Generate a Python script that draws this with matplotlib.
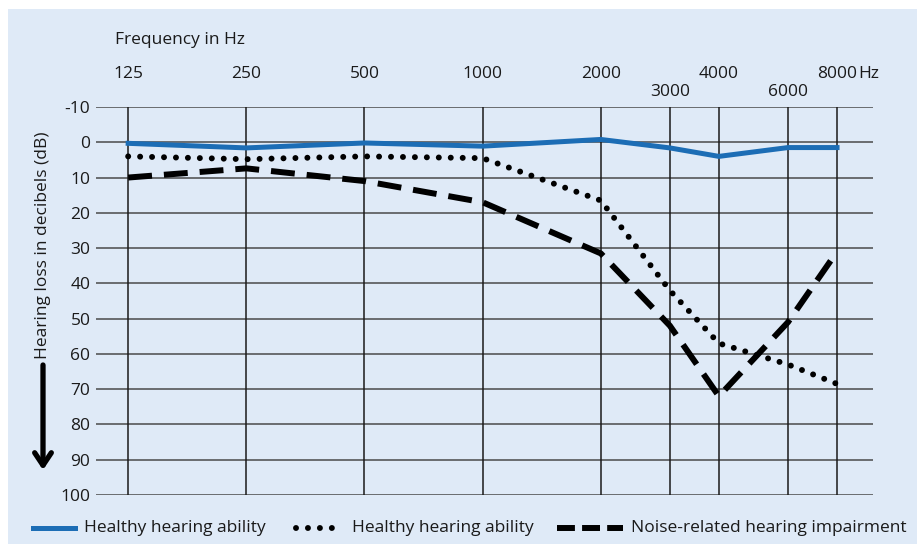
import matplotlib.pyplot as plt
from matplotlib.lines import Line2D
from matplotlib.patches import Rectangle

plt.rcParams['font.family'] = ['Open Sans', 'DejaVu Sans']

# Frequencies (Hz) and hearing loss (dB)
freqs = [125, 250, 500, 1000, 2000, 3000, 4000, 6000, 8000]
healthy_solid = [0.3, 1.6, 0.2, 1.1, -0.8, 1.6, 4.0, 1.5, 1.5]
healthy_dotted = [4.0, 4.8, 4.0, 4.5, 16.5, 42.0, 57.0, 63.0, 68.5]
noise_dashed = [10.0, 7.4, 11.0, 17.0, 31.5, 52.0, 72.0, 51.0, 31.0]

upper_ticks = ['125', '250', '500', '1000', '2000', '4000', '8000']
lower_ticks = ['3000', '6000']
db_ticks = list(range(-10, 101, 10))

BG = '#dfeaf7'
BLUE = '#1c6db5'
TXT = '#1a1a1a'
FS = 12.5

W, H = 917, 544
fig = plt.figure(figsize=(W / 100, H / 100), dpi=100)
fig.patch.set_facecolor('white')
fig.add_artist(Rectangle((8 / W, 0), 1 - 8 / W, 1 - 9 / H, transform=fig.transFigure,
                         facecolor=BG, edgecolor='none', zorder=0))

ax = fig.add_axes([96 / W, 1 - 495 / H, 777 / W, 388 / H])
ax.patch.set_alpha(0)
ax.set_xscale('log', base=2)
ax.set_xlim(103.5, 9880)
ax.set_ylim(100, -10)
for s in ax.spines.values():
    s.set_visible(False)

# grid
for d in db_ticks:
    ax.axhline(d, color='#4a4a4a', lw=1.1, zorder=1)
for f in freqs:
    ax.axvline(f, color='#1a1a1a', lw=1.1, zorder=1)

ax.set_xticks([])
ax.set_yticks(db_ticks)
ax.set_yticklabels([str(d) for d in db_ticks])
ax.tick_params(axis='y', length=0, pad=4, labelsize=FS, labelcolor=TXT)
ax.minorticks_off()

# curves
ax.plot(freqs, noise_dashed, color='black', lw=4.3, linestyle=(0, (4, 2)),
        dash_capstyle='butt', zorder=3)
ax.plot(freqs, healthy_dotted, color='black', lw=4.3, linestyle=(0, (0.001, 2)),
        dash_capstyle='round', zorder=3)
ax.plot(freqs, healthy_solid, color=BLUE, lw=3.6, solid_joinstyle='miter', zorder=4)

# frequency labels on top
trans = ax.get_xaxis_transform()
for lab in upper_ticks:
    ax.annotate(lab, xy=(float(lab), 1), xycoords=trans, xytext=(0, 24),
                textcoords='offset points', ha='center', va='center',
                fontsize=FS, color=TXT)
for lab in lower_ticks:
    ax.annotate(lab, xy=(float(lab), 1), xycoords=trans, xytext=(0, 11),
                textcoords='offset points', ha='center', va='center',
                fontsize=FS, color=TXT)
ax.annotate('Hz', xy=(8000, 1), xycoords=trans, xytext=(15, 24),
            textcoords='offset points', ha='left', va='center',
            fontsize=FS, color=TXT)

fig.text(115 / W, 1 - 40 / H, 'Frequency in Hz', ha='left', va='center',
         fontsize=FS, color=TXT)
fig.text(43 / W, 1 - 245 / H, 'Hearing loss in decibels (dB)', rotation=90,
         ha='center', va='center', fontsize=FS, color=TXT)
fig.add_artist(plt.Annotation('', xy=(43 / W, 1 - 470 / H), xycoords='figure fraction',
                              xytext=(43 / W, 1 - 365 / H), textcoords='figure fraction',
                              arrowprops=dict(arrowstyle='->,head_length=0.9,head_width=0.6',
                                              lw=3.8, color='black',
                                              shrinkA=0, shrinkB=0)))

# legend
ly = 1 - 528 / H
fig.add_artist(Line2D([33 / W, 75 / W], [ly, ly], color=BLUE, lw=3.6))
fig.text(84 / W, ly, 'Healthy hearing ability', ha='left', va='center',
         fontsize=FS, color=TXT)
fig.add_artist(Line2D([296 / W, 341 / W], [ly, ly], color='black', lw=4.3,
                      linestyle=(0, (0.001, 2)), dash_capstyle='round'))
fig.text(352 / W, ly, 'Healthy hearing ability', ha='left', va='center',
         fontsize=FS, color=TXT)
fig.add_artist(Line2D([557 / W, 623 / W], [ly, ly], color='black', lw=4.3,
                      linestyle=(0, (3, 1.2)), dash_capstyle='butt'))
fig.text(631 / W, ly, 'Noise-related hearing impairment', ha='left', va='center',
         fontsize=FS, color=TXT)

fig.savefig('out.png', dpi=100, facecolor=fig.get_facecolor())
